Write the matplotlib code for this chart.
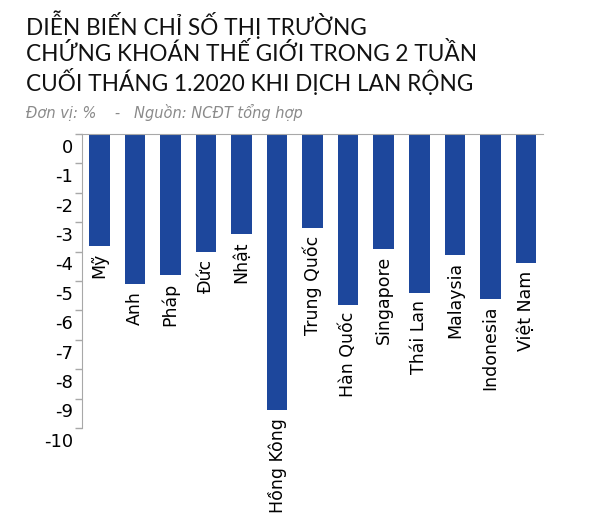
import matplotlib
matplotlib.use("Agg")
import matplotlib.pyplot as plt

countries = ["Mỹ", "Anh", "Pháp", "Đức", "Nhật", "Hồng Kông", "Trung Quốc",
             "Hàn Quốc", "Singapore", "Thái Lan", "Malaysia", "Indonesia", "Việt Nam"]
changes = [-3.8, -5.1, -4.8, -4.0, -3.4, -9.4, -3.2, -5.8, -3.9, -5.4, -4.1, -5.6, -4.4]
y_ticks = [0, -1, -2, -3, -4, -5, -6, -7, -8, -9, -10]

title = "DIỄN BIẾN CHỈ SỐ THỊ TRƯỜNG\nCHỨNG KHOÁN THẾ GIỚI TRONG 2 TUẦN\nCUỐI THÁNG 1.2020 KHI DỊCH LAN RỘNG"
note = "Đơn vị: %    -   Nguồn: NCĐT tổng hợp"

bar_color = "#1d479c"
grey = "#a8a8a8"

fig = plt.figure(figsize=(6, 5.27), dpi=100)
ax = fig.add_axes([0.137, 1 - 428 / 527, 0.905 - 0.137, (428 - 134) / 527])

x = list(range(len(countries)))
ax.bar(x, changes, width=0.58, color=bar_color, zorder=2)
ax.set_xlim(-0.48, len(countries) - 0.52)
ax.set_ylim(-10, 0)

# country names under each bar end
for xi, v, name in zip(x, changes, countries):
    ax.text(xi, v - 0.25, name, rotation=90, ha="center", va="top",
            fontsize=12.5, color="black", clip_on=False)

# ticks on the integers, labels drawn half a step lower like the original
ax.set_yticks(y_ticks)
ax.set_yticklabels([])
ax.tick_params(axis="y", length=5, color=grey, width=1)
ax.set_xticks([])
for t in y_ticks:
    ax.text(-0.74, t - 0.47, str(t), ha="right", va="center",
            fontsize=13, color="black", clip_on=False)

for s in ["right", "bottom"]:
    ax.spines[s].set_visible(False)
ax.spines["top"].set_color(grey)
ax.spines["left"].set_color(grey)

fig.text(0.043, 0.981, title, ha="left", va="top", fontsize=16.3,
         family=["Lato", "DejaVu Sans"], color="#111111", linespacing=1.16)
fig.text(0.043, 0.787, note, ha="left", va="center", fontsize=10.5,
         style="italic", color="#8a8a8a")

fig.savefig("out.png", dpi=100)
